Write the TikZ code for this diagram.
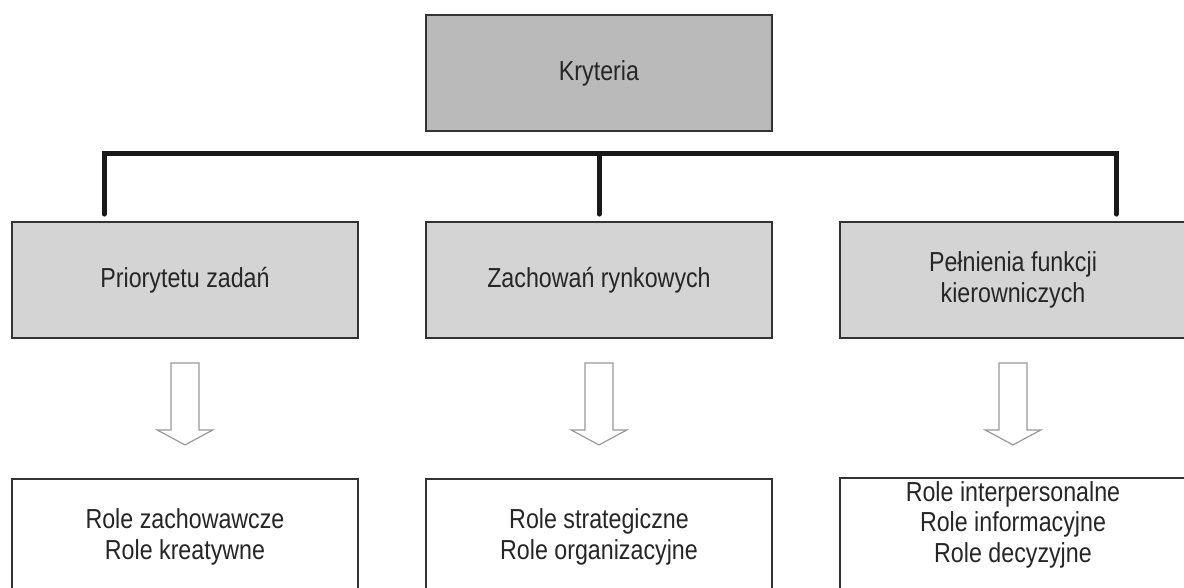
\documentclass[tikz,border=0pt]{standalone}
\usepackage{fontspec}
\setmainfont{Liberation Sans}[FakeStretch=0.845]
\usetikzlibrary{positioning}

\begin{document}
\begin{tikzpicture}[x=1pt,y=-1pt,node distance=207pt,on grid,
	box/.style={draw=black!80,line width=1.8pt,minimum width=346pt,minimum height=116pt,
		align=center,text=black!85,font=\fontsize{27.5}{30.5}\selectfont},
	head/.style={box,fill=black!27},
	crit/.style={box,fill=black!17},
	role/.style={box,fill=white},
	trunk/.style={line width=5pt,black!90,line cap=round},
	hollow/.style={draw=black!40,line width=1.2pt,fill=white}]
	\useasboundingbox (0,0) rectangle (1184,588);
	\clip (0,0) rectangle (1184,588);
	\node[head] (kryt) at (599,73) {Kryteria};
	\node[crit] (p2) [below=of kryt] {Zachowań rynkowych};
	\node[crit] (p1) [left=414pt of p2] {Priorytetu zadań};
	\node[crit] (p3) [right=414pt of p2] {Pełnienia funkcji\\kierowniczych};
	\node[role] (r2) [below=257pt of p2] {Role strategiczne\\Role organizacyjne};
	\node[role] (r1) [below=257pt of p1] {Role zachowawcze\\Role kreatywne};
	\node[role] (r3) [below=257pt of p3] {Role interpersonalne\\Role informacyjne\\Role decyzyjne\\\mbox{}};
	% drops into the three criteria
	\coordinate (d1) at ([xshift=-81pt,yshift=7pt]p1.north);
	\coordinate (d2) at ([yshift=7pt]p2.north);
	\coordinate (d3) at ([xshift=103pt,yshift=7pt]p3.north);
	\coordinate (bar) at ([yshift=60.5pt]d2);
	\draw[trunk] (d1) |- (bar) -| (d3);
	\draw[trunk] (bar) -- (d2);
	% hollow arrows down to the roles
	\foreach \n in {p1,p2,p3}
		\draw[hollow,shift={(\n.south)}] (-14,24) -- (14,24) -- (14,91) -- (28,91)
			-- (0,106) -- (-28,91) -- (-14,91) -- cycle;
\end{tikzpicture}
\end{document}
